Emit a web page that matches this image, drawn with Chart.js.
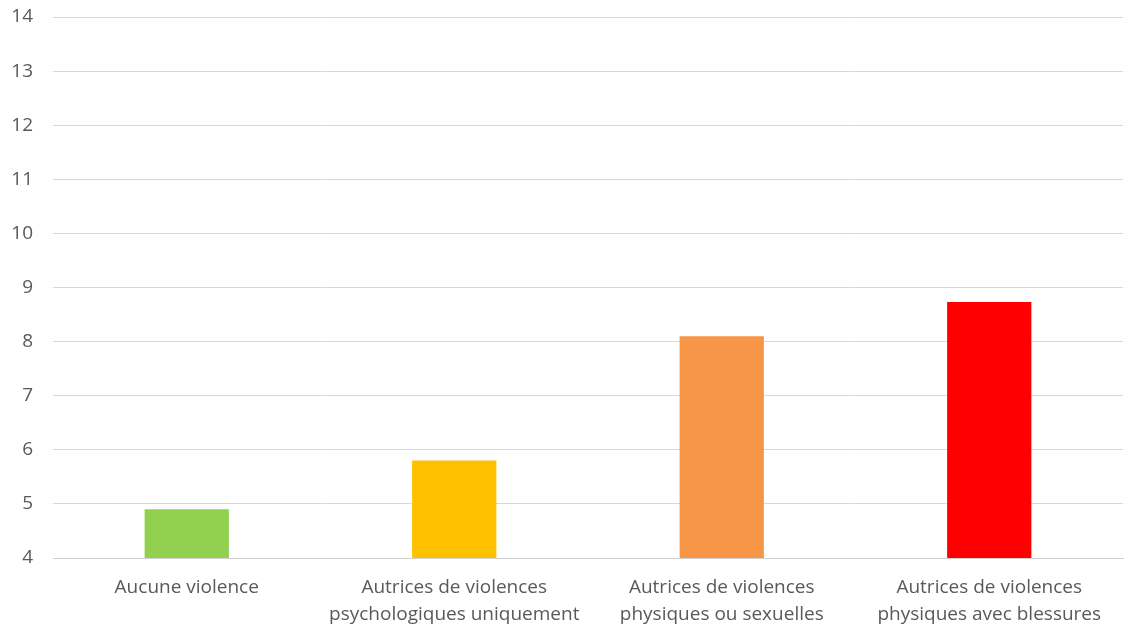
<!DOCTYPE html>
<html>
<head>
<meta charset="utf-8">
<script src="https://cdn.jsdelivr.net/npm/chart.js@4/dist/chart.umd.min.js"></script>
<style>
  html, body { margin: 0; padding: 0; background: #fff; }
  #wrap { width: 1125px; height: 633px; }
</style>
</head>
<body>
<div id="wrap"><canvas id="chart" width="1125" height="633"></canvas></div>
<script>
// categories and values
const categories = [
  ['Aucune violence'],
  ['Autrices de violences', 'psychologiques uniquement'],
  ['Autrices de violences', 'physiques ou sexuelles'],
  ['Autrices de violences', 'physiques avec blessures']
];
const values = [4.9, 5.8, 8.1, 8.73];
const barColors = ['#92d050', '#ffc000', '#f79646', '#ff0000'];
const yTicks = [4, 5, 6, 7, 8, 9, 10, 11, 12, 13, 14];

const textColor = '#595959';
const gridColor = '#d9d9d9';

new Chart(document.getElementById('chart'), {
  type: 'bar',
  data: {
    labels: categories,
    datasets: [{
      data: values,
      backgroundColor: barColors,
      categoryPercentage: 1,
      barPercentage: 0.315
    }]
  },
  options: {
    responsive: false,
    animation: false,
    layout: { padding: { top: 17, right: 2, left: 0, bottom: 0 } },
    plugins: {
      legend: { display: false },
      tooltip: { enabled: false }
    },
    scales: {
      x: {
        grid: { display: false, drawTicks: false },
        border: { display: true, color: '#d0d0d0', width: 1 },
        afterFit: axis => { axis.height = 75; axis.paddingLeft = 0; axis.paddingRight = 0; },
        ticks: {
          color: textColor,
          font: { family: 'Open Sans', size: 19, lineHeight: 1.42 },
          padding: 16,
          autoSkip: false,
          maxRotation: 0
        }
      },
      y: {
        min: yTicks[0],
        max: yTicks[yTicks.length - 1],
        afterBuildTicks: axis => { axis.ticks = yTicks.map(v => ({ value: v })); },
        afterFit: axis => { axis.width = 53; axis.paddingTop = 0; axis.paddingBottom = 0; },
        grid: { color: gridColor, drawTicks: false },
        border: { display: false },
        ticks: {
          color: textColor,
          font: { family: 'Open Sans', size: 19 },
          padding: 20
        }
      }
    }
  }
});
</script>
</body>
</html>
